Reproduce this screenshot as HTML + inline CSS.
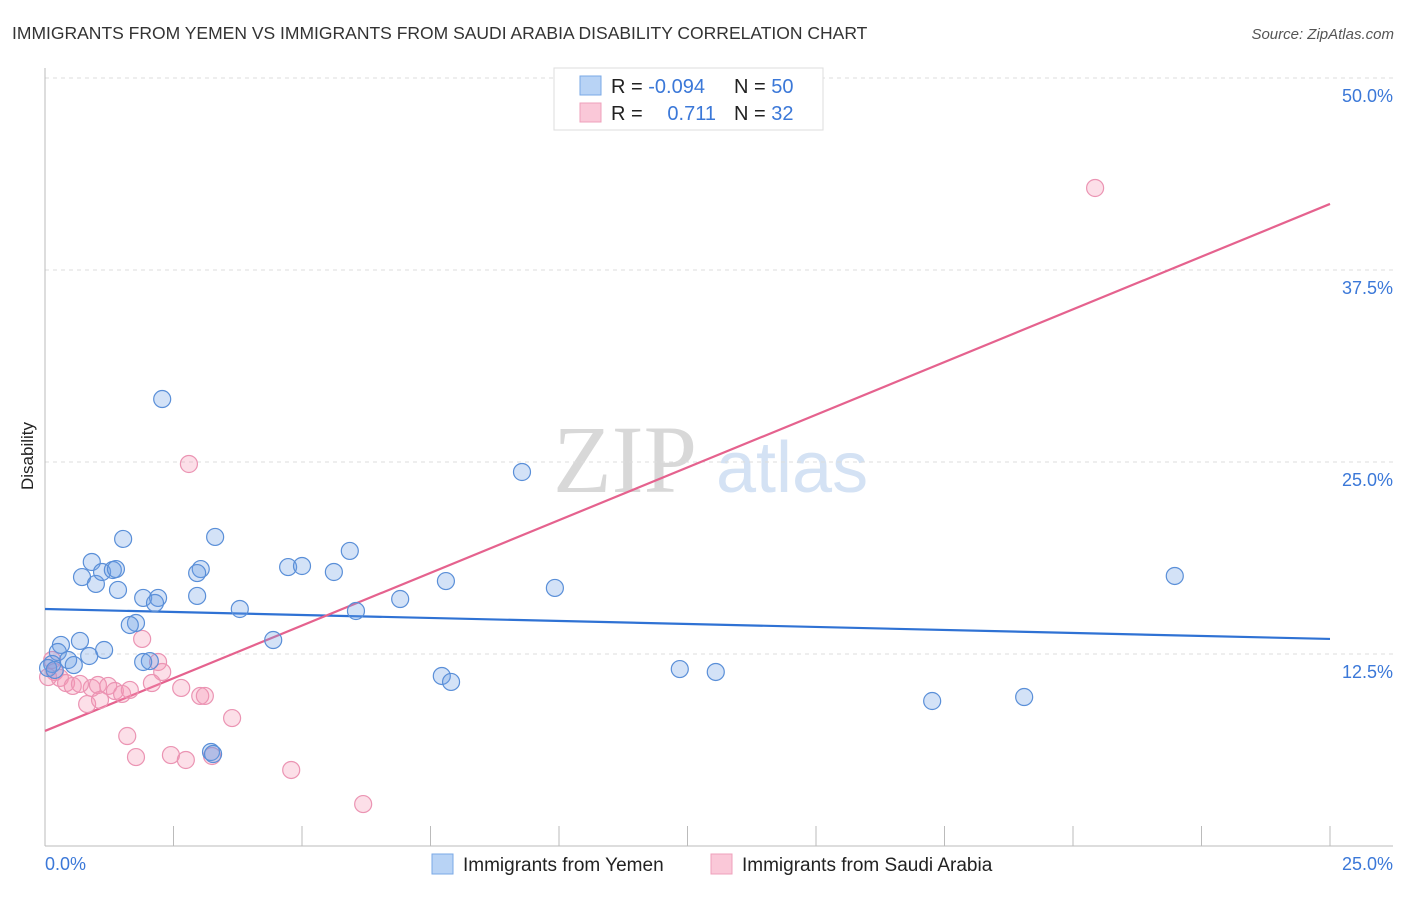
<!DOCTYPE html>
<html><head><meta charset="utf-8"><style>
body{margin:0;background:#fff;font-family:"Liberation Sans",sans-serif;}
</style></head><body>
<svg id="chart" width="1406" height="892" xmlns="http://www.w3.org/2000/svg">
<text x="12" y="39" font-size="17.5" fill="#333">IMMIGRANTS FROM YEMEN VS IMMIGRANTS FROM SAUDI ARABIA DISABILITY CORRELATION CHART</text>
<text x="1394" y="39" font-size="15" fill="#555" font-style="italic" text-anchor="end">Source: ZipAtlas.com</text>
<text x="33" y="456" font-size="17" fill="#222" text-anchor="middle" transform="rotate(-90 33 456)">Disability</text>
<g>
<text x="553" y="492" font-size="96" font-family="Liberation Serif,serif" fill="#d8d8d8">ZIP</text>
<text x="716" y="492" font-size="72" fill="#d4e2f4">atlas</text>
</g>
<g id="grid"></g>
<g id="axes"></g>
<g id="trend"></g>
<g id="pts"></g>
<g>
<rect x="554" y="68" width="269" height="62" fill="#fff" stroke="#ddd"/>
<rect x="580" y="76" width="21" height="19" fill="#b8d3f5" stroke="#7aa8e6"/>
<rect x="580" y="103" width="21" height="19" fill="#fac8d8" stroke="#efa0bb"/>
<text x="611" y="93" font-size="20" fill="#222">R = <tspan fill="#3b78d8">-0.094</tspan></text>
<text x="734" y="93" font-size="20" fill="#222">N = <tspan fill="#3b78d8">50</tspan></text>
<text x="611" y="120" font-size="20" fill="#222">R = </text>
<text x="716" y="120" font-size="20" fill="#3b78d8" text-anchor="end">0.711</text>
<text x="734" y="120" font-size="20" fill="#222">N = <tspan fill="#3b78d8">32</tspan></text>
</g>
<g>
<rect x="432" y="854" width="21" height="20" fill="#b8d3f5" stroke="#7aa8e6"/>
<text x="463" y="871" font-size="19" fill="#222">Immigrants from Yemen</text>
<rect x="711" y="854" width="21" height="20" fill="#fac8d8" stroke="#efa0bb"/>
<text x="742" y="871" font-size="19" fill="#222">Immigrants from Saudi Arabia</text>
</g>
</svg>
<script>
const yTicks=[12.5,25,37.5,50];
const yTickLabels=["12.5%","25.0%","37.5%","50.0%"];
const xTickLabels=["0.0%","25.0%"];
const yemenX=[2.28,0.91,1.52,0.72,0.99,1.11,1.32,1.38,1.42,1.91,2.20,2.14,1.77,1.65,3.03,2.96,2.96,3.31,3.79,4.73,5.00,5.62,5.93,6.05,4.44,6.91,7.80,9.28,9.92,7.72,7.90,12.35,13.05,17.26,19.05,21.98,0.68,0.31,0.25,0.86,1.15,0.45,0.56,0.14,0.06,2.04,1.91,3.23,3.27,0.19];
const yemenY=[29.10,18.49,19.99,17.51,17.06,17.84,17.97,18.03,16.67,16.15,16.15,15.82,14.52,14.39,18.03,17.77,16.28,20.12,15.43,18.16,18.23,17.84,19.21,15.30,13.41,16.08,17.25,24.35,16.80,11.07,10.68,11.52,11.33,9.44,9.70,17.58,13.35,13.09,12.63,12.37,12.76,12.11,11.78,11.85,11.59,12.04,11.98,6.12,5.99,11.46];
const saudiX=[20.43,2.80,1.89,2.20,2.28,0.14,0.19,0.06,0.29,0.41,0.54,0.91,1.03,1.23,1.36,1.50,1.65,2.08,2.65,3.02,3.11,3.64,0.82,1.07,1.60,1.77,2.45,2.74,3.25,4.79,6.19,0.68];
const saudiY=[42.84,24.87,13.48,11.98,11.33,12.11,11.33,11.00,10.94,10.61,10.42,10.29,10.48,10.42,10.09,9.90,10.16,10.61,10.29,9.77,9.77,8.33,9.24,9.51,7.16,5.79,5.92,5.60,5.86,4.95,2.73,10.55];
const yemenTrend=[15.43,13.48];
const saudiTrend=[7.49,41.80];
const NS="http://www.w3.org/2000/svg";
const X0=45,X1=1330,Y0=846,PXY=192/12.5;
function sx(v){return X0+(v/25)*(X1-X0);}
function sy(v){return Y0-v*PXY;}
function mk(tag,attrs,parent){const e=document.createElementNS(NS,tag);for(const k in attrs)e.setAttribute(k,attrs[k]);parent.appendChild(e);return e;}
const grid=document.getElementById('grid'),axes=document.getElementById('axes'),trend=document.getElementById('trend'),pts=document.getElementById('pts');
yTicks.forEach((t,i)=>{
 const l=mk('line',{x1:45,x2:1393,y1:sy(t),y2:sy(t),stroke:'#ddd','stroke-dasharray':'4,4'},grid);
 
 
 const tx=mk('text',{x:1393,y:sy(t)+24,'font-size':18,fill:'#3b78d8','text-anchor':'end'},grid);
 tx.textContent=yTickLabels[i];
 
 
});
const ya=mk('line',{x1:45,x2:45,y1:68,y2:846,stroke:'#bbb'},axes);


const xa=mk('line',{x1:45,x2:1393,y1:846,y2:846,stroke:'#bbb'},axes);


for(let i=1;i<=10;i++){
 const v=i*2.5;
 const tk=mk('line',{x1:sx(v),x2:sx(v),y1:826,y2:846,stroke:'#bbb'},axes);
 
 
}
[[0,'start',45],[25,'end',1393]].forEach((a,i)=>{
 const t=mk('text',{x:a[2],y:870,'font-size':18,fill:'#3b78d8','text-anchor':a[1]},axes);
 t.textContent=xTickLabels[i];
 
 
});
function drawPts(xs,ys,fill,stroke,name){
 xs.forEach((x,i)=>{
  const c=mk('circle',{cx:sx(x),cy:sy(ys[i]),r:8.5,fill:fill,stroke:stroke,'stroke-width':1.2},pts);
  
  
 });
}
drawPts(saudiX,saudiY,'rgba(245,150,180,0.3)','#eb94b3','point-saudi');
drawPts(yemenX,yemenY,'rgba(110,160,230,0.3)','#5a8fd8','point-yemen');
const tb=mk('line',{x1:sx(0),y1:sy(yemenTrend[0]),x2:sx(25),y2:sy(yemenTrend[1]),stroke:'#2f72d4','stroke-width':2.2},trend);


const tp=mk('line',{x1:sx(0),y1:sy(saudiTrend[0]),x2:sx(25),y2:sy(saudiTrend[1]),stroke:'#e5628e','stroke-width':2.2},trend);


</script>
</body></html>
